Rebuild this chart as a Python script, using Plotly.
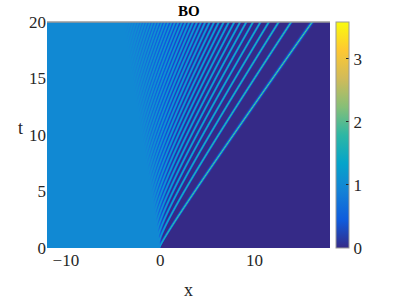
import numpy as np
import plotly.graph_objects as go

# ---- values ----
x_range = [-12, 18]
t_range = [0, 20]
x_ticks = [-10, 0, 10]
t_ticks = [0, 5, 10, 15, 20]
cbar_ticks = [0, 1, 2, 3]
u_left = 1.0        # plateau left of the shock
u_right = 0.0       # plateau right of the shock
u_max = 3.58        # top of the colour bar
# dispersive-shock fan (slopes x/t)
s_trail = -0.20     # faint harmonic trailing edge
s_lead = 0.88       # leading soliton edge
k_slope = 21.7      # growth of wavenumber behind the leading edge
phase0 = 0.19       # phase of leading ridge (in periods)
amp_lead = 1.30     # half height of the ridges at the leading edge
eps = 0.085         # dispersion scale (sets ridge area)
nx, nt, sub = 283, 226, 16

parula = [
    [0.000, "#352a87"], [0.125, "#0f5cdd"], [0.250, "#1481d6"],
    [0.375, "#06a4ca"], [0.500, "#2eb7a4"], [0.625, "#87bf77"],
    [0.750, "#d1bb59"], [0.875, "#fec832"], [1.000, "#f9fb0e"],
]

# ---- field: modulated Benjamin-Ono periodic wave (Lorentzian comb) ----
dx = (x_range[1] - x_range[0]) / nx
dt = (t_range[1] - t_range[0]) / nt
x_c = x_range[0] + (np.arange(nx) + 0.5) * dx
t_c = t_range[0] + (np.arange(nt) + 0.5) * dt
x_f = x_range[0] + (np.arange(nx * sub) + 0.5) * dx / sub
X, T = np.meshgrid(x_f, t_c)
S = X / T
q = np.clip((S - s_trail) / (s_lead - s_trail), 0, 1)
k_phys = k_slope * np.clip(s_lead - S, 0, None)
kappa = eps * k_phys
kappa_trail = eps * k_slope * (s_lead - s_trail)
b = (u_left - kappa_trail) * (1 - q) + u_right * q
a = amp_lead * q
r = kappa / (kappa + 2 * a + 1e-12)
psi = T * k_slope * np.clip(s_lead - S, 0, None) ** 2 / 2
theta = psi - 2 * np.pi * phase0
den = (1 - np.cos(theta)) + r ** 2 * (1 + np.cos(theta)) + 1e-12
comb = b + 2 * kappa * r / den
U = np.where(S <= s_trail, u_left, np.where(S >= s_lead, u_right, comb))
Z = U.reshape(nt, nx, sub).mean(axis=2)

font = "Liberation Serif"
ink = "#262626"

fig = go.Figure(go.Heatmap(
    x=x_c, y=t_c, z=Z, colorscale=parula, zmin=0, zmax=u_max,
    zsmooth=False, hoverinfo="skip",
    colorbar=dict(
        x=1.021, xanchor="left", xpad=0, y=0.5, yanchor="middle",
        len=1, lenmode="fraction", ypad=0, thickness=13,
        outlinecolor="#9a9a9a", outlinewidth=1,
        tickvals=cbar_ticks, ticks="inside", ticklen=3, tickcolor=ink,
        tickfont=dict(family=font, size=17, color=ink),
    ),
))

fig.update_layout(
    width=399, height=299,
    margin=dict(l=47, r=69, t=22, b=51),
    paper_bgcolor="white", plot_bgcolor="white",
    showlegend=False,
    xaxis=dict(range=x_range, tickvals=x_ticks, showgrid=False, zeroline=False,
               ticks="", showline=False,
               tickfont=dict(family=font, size=17, color=ink)),
    yaxis=dict(range=t_range, tickvals=t_ticks, showgrid=False, zeroline=False,
               ticks="", showline=False,
               tickfont=dict(family=font, size=17, color=ink)),
    shapes=[dict(type="line", xref="paper", yref="paper", x0=0, x1=1, y0=1, y1=1,
                 line=dict(color="#9a9a9a", width=1.5))],
    annotations=[
        dict(text="<b>BO</b>", xref="paper", yref="paper", x=0.5, y=1.0,
             xanchor="center", yanchor="bottom", yshift=1, showarrow=False,
             font=dict(family=font, size=15, color="black")),
        dict(text="x", xref="paper", yref="paper", x=0.5, y=-0.186,
             xanchor="center", yanchor="middle", showarrow=False,
             font=dict(family=font, size=18, color=ink)),
        dict(text="t", xref="paper", yref="paper", x=-0.095, y=0.53,
             xanchor="center", yanchor="middle", showarrow=False,
             font=dict(family=font, size=18, color=ink)),
    ],
)

fig.write_html("out.html", post_script="document.body.style.margin='0';",
               config={"displayModeBar": False, "staticPlot": True})
